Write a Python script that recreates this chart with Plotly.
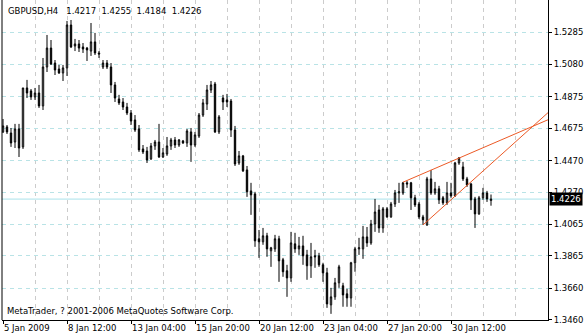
import plotly.graph_objects as go

# ---- data (GBPUSD H4) ----
opens = [
1.4652, 1.4684, 1.4645, 1.4588, 1.4671, 1.4557, 1.4931, 1.4912, 1.4874, 1.4899,
1.4817, 1.5064, 1.5184, 1.5089, 1.5051, 1.5026, 1.5058, 1.5330, 1.5197, 1.5210,
1.5191, 1.5184, 1.5165, 1.5223, 1.5153, 1.5064, 1.5089, 1.5064, 1.4950, 1.4861,
1.4842, 1.4810, 1.4772, 1.4728, 1.4671, 1.4544, 1.4531, 1.4481, 1.4563, 1.4588,
1.4493, 1.4512, 1.4563, 1.4601, 1.4569, 1.4595, 1.4582, 1.4652, 1.4569, 1.4626,
1.4759, 1.4829, 1.4918, 1.4956, 1.4652, 1.4867, 1.4855, 1.4848, 1.4664, 1.4455,
1.4500, 1.4411, 1.4278, 1.4259, 1.3974, 1.3955, 1.3993, 1.3898, 1.3910, 1.3974,
1.3841, 1.3771, 1.3726, 1.3942, 1.3910, 1.3929, 1.3872, 1.3803, 1.3866, 1.3866,
1.3809, 1.3758, 1.3555, 1.3606, 1.3695, 1.3676, 1.3625, 1.3599, 1.3822, 1.3910,
1.3910, 1.3986, 1.3948, 1.4068, 1.4157, 1.4043, 1.4164, 1.4113, 1.4195, 1.4265,
1.4265, 1.4329, 1.4329, 1.4234, 1.4195, 1.4113, 1.4062, 1.4354, 1.4265, 1.4291,
1.4234, 1.4202, 1.4265, 1.4246, 1.4455, 1.4430, 1.4354, 1.4322, 1.4227, 1.4132,
1.4234, 1.4265, 1.4217]
highs = [
1.4734, 1.4696, 1.4677, 1.4703, 1.4703, 1.4931, 1.4982, 1.4924, 1.4931, 1.4950,
1.5121, 1.5267, 1.5235, 1.5108, 1.5077, 1.5077, 1.5356, 1.5362, 1.5242, 1.5235,
1.5216, 1.5191, 1.5343, 1.5280, 1.5165, 1.5108, 1.5108, 1.5089, 1.4969, 1.4887,
1.4867, 1.4836, 1.4791, 1.4759, 1.4696, 1.4569, 1.4557, 1.4582, 1.4601, 1.4703,
1.4550, 1.4620, 1.4614, 1.4620, 1.4607, 1.4601, 1.4671, 1.4677, 1.4652, 1.4772,
1.4861, 1.4950, 1.4975, 1.4969, 1.4759, 1.4887, 1.4893, 1.4861, 1.4690, 1.4531,
1.4506, 1.4436, 1.4329, 1.4272, 1.4030, 1.4043, 1.4012, 1.3923, 1.3999, 1.3993,
1.3853, 1.3809, 1.4018, 1.4012, 1.3986, 1.3993, 1.3904, 1.3948, 1.3904, 1.3885,
1.3822, 1.3790, 1.3663, 1.3726, 1.3809, 1.3695, 1.3657, 1.3828, 1.3923, 1.3980,
1.4056, 1.4049, 1.4094, 1.4227, 1.4189, 1.4176, 1.4176, 1.4208, 1.4284, 1.4329,
1.4335, 1.4341, 1.4335, 1.4253, 1.4208, 1.4126, 1.4367, 1.4411, 1.4335, 1.4310,
1.4246, 1.4335, 1.4329, 1.4462, 1.4493, 1.4462, 1.4367, 1.4329, 1.4240, 1.4246,
1.4297, 1.4278, 1.4255]
lows = [
1.4645, 1.4639, 1.4557, 1.4550, 1.4493, 1.4544, 1.4867, 1.4855, 1.4855, 1.4804,
1.4791, 1.5032, 1.5077, 1.5013, 1.5020, 1.4975, 1.5007, 1.5184, 1.5165, 1.5159,
1.5153, 1.5102, 1.5134, 1.5140, 1.5121, 1.5051, 1.5051, 1.4899, 1.4842, 1.4823,
1.4791, 1.4759, 1.4696, 1.4652, 1.4525, 1.4512, 1.4455, 1.4474, 1.4538, 1.4487,
1.4487, 1.4500, 1.4538, 1.4550, 1.4557, 1.4576, 1.4557, 1.4462, 1.4557, 1.4614,
1.4747, 1.4791, 1.4899, 1.4645, 1.4639, 1.4791, 1.4810, 1.4620, 1.4436, 1.4443,
1.4398, 1.4240, 1.4126, 1.3923, 1.3853, 1.3936, 1.3860, 1.3796, 1.3891, 1.3701,
1.3733, 1.3606, 1.3701, 1.3885, 1.3872, 1.3809, 1.3714, 1.3726, 1.3790, 1.3796,
1.3701, 1.3536, 1.3498, 1.3587, 1.3663, 1.3543, 1.3543, 1.3543, 1.3765, 1.3872,
1.3847, 1.3923, 1.3936, 1.4018, 1.4012, 1.4012, 1.4107, 1.4107, 1.4176, 1.4202,
1.4253, 1.4297, 1.4157, 1.4176, 1.4100, 1.4062, 1.4056, 1.4253, 1.4253, 1.4195,
1.4189, 1.4189, 1.4234, 1.4240, 1.4443, 1.4341, 1.4303, 1.4157, 1.4043, 1.4126,
1.4221, 1.4208, 1.4184]
closes = [
1.4690, 1.4652, 1.4582, 1.4671, 1.4550, 1.4931, 1.4899, 1.4874, 1.4899, 1.4817,
1.5064, 1.5184, 1.5083, 1.5045, 1.5026, 1.5058, 1.5330, 1.5191, 1.5210, 1.5184,
1.5178, 1.5172, 1.5223, 1.5153, 1.5146, 1.5089, 1.5064, 1.4950, 1.4867, 1.4836,
1.4810, 1.4772, 1.4721, 1.4664, 1.4538, 1.4525, 1.4474, 1.4563, 1.4588, 1.4493,
1.4519, 1.4563, 1.4601, 1.4569, 1.4601, 1.4582, 1.4658, 1.4569, 1.4633, 1.4759,
1.4836, 1.4918, 1.4950, 1.4652, 1.4747, 1.4842, 1.4842, 1.4664, 1.4449, 1.4500,
1.4405, 1.4272, 1.4253, 1.3961, 1.3955, 1.3993, 1.3910, 1.3917, 1.3974, 1.3834,
1.3765, 1.3726, 1.3948, 1.3910, 1.3929, 1.3866, 1.3803, 1.3860, 1.3860, 1.3809,
1.3758, 1.3561, 1.3606, 1.3695, 1.3796, 1.3618, 1.3599, 1.3822, 1.3910, 1.3917,
1.3986, 1.3948, 1.4068, 1.4144, 1.4043, 1.4164, 1.4113, 1.4195, 1.4265, 1.4272,
1.4329, 1.4322, 1.4234, 1.4189, 1.4113, 1.4094, 1.4354, 1.4265, 1.4291, 1.4221,
1.4202, 1.4265, 1.4246, 1.4455, 1.4487, 1.4354, 1.4316, 1.4221, 1.4132, 1.4234,
1.4265, 1.4227, 1.4226]
bars = list(range(len(opens)))

x_tick_pos = [0, 16, 32, 48, 64, 80, 96, 112]
x_tick_labels = ["5 Jan 2009", "8 Jan 12:00", "13 Jan 04:00", "15 Jan 20:00",
                 "20 Jan 12:00", "23 Jan 04:00", "27 Jan 20:00", "30 Jan 12:00"]
x_minor_grid = [8, 24, 40, 56, 72, 88, 104, 120, 128, 136]
y_tick_vals = [1.5285, 1.5080, 1.4875, 1.4675, 1.4470, 1.4270, 1.4065, 1.3865, 1.3660, 1.3460]
y_tick_labels = ["1.5285", "1.5080", "1.4875", "1.4675", "1.4470", "1.4270",
                 "1.4065", "1.3865", "1.3660", "1.3460"]
bid_price = 1.4226

# trend line anchors (bar index, price)
upper_x = [100, 114]
upper_y = [1.4333, 1.4486]
lower_x = [105, 124]
lower_y = [1.4062, 1.4495]

X_RANGE = [-0.25, 136.25]
Y_RANGE = [1.3459, 1.54888]
FONT = "DejaVu Sans"
FS = 8.5

fig = go.Figure()
fig.add_trace(go.Candlestick(
    x=bars, open=opens, high=highs, low=lows, close=closes,
    increasing=dict(line=dict(color="black", width=1), fillcolor="white"),
    decreasing=dict(line=dict(color="black", width=1), fillcolor="black"),
    whiskerwidth=0, showlegend=False, hoverinfo="skip",
))

def ray(xs, ys):
    slope = (ys[1] - ys[0]) / (xs[1] - xs[0])
    xe = X_RANGE[1]
    return dict(type="line", xref="x", yref="y", x0=xs[0], y0=ys[0],
                x1=xe, y1=ys[0] + slope * (xe - xs[0]),
                line=dict(color="#ec5a26", width=1), layer="above")

shapes = [
    dict(type="line", xref="paper", yref="y", x0=0, x1=1, y0=bid_price, y1=bid_price,
         line=dict(color="#a9e2ea", width=1), layer="below"),
    ray(upper_x, upper_y),
    ray(lower_x, lower_y),
    dict(type="line", xref="paper", yref="paper", x0=0, x1=0, y0=0, y1=1,
         line=dict(color="black", width=1), layer="above"),
]

annotations = [
    dict(xref="paper", yref="paper", x=0, y=1, xanchor="left", yanchor="top",
         xshift=4, yshift=-4, showarrow=False,
         text="GBPUSD,H4\u00a0\u00a0 1.4217\u00a0 1.4255\u00a0 1.4184\u00a0 1.4226",
         font=dict(family=FONT, size=FS, color="black")),
    dict(xref="paper", yref="paper", x=0, y=0, xanchor="left", yanchor="bottom",
         xshift=3, yshift=2, showarrow=False,
         text="MetaTrader, ? 2001-2006 MetaQuotes Software Corp.",
         font=dict(family=FONT, size=FS, color="black")),
    dict(xref="paper", yref="y", x=1, y=bid_price, xanchor="left", yanchor="middle",
         xshift=1, showarrow=False, text="1.4226", bgcolor="black", borderpad=1,
         font=dict(family=FONT, size=FS, color="white")),
]

fig.update_layout(
    width=584, height=336,
    margin=dict(l=2, r=36, t=0, b=16),
    paper_bgcolor="white", plot_bgcolor="white",
    showlegend=False, boxgap=0.5,
    shapes=shapes, annotations=annotations,
    font=dict(family=FONT, size=FS, color="black"),
    xaxis=dict(
        range=X_RANGE, rangeslider=dict(visible=False), tickmode="array",
        tickvals=x_tick_pos, ticktext=x_tick_labels, ticks="outside", ticklen=3,
        tickcolor="black", ticklabelposition="outside right",
        showgrid=True, gridcolor="#cccccc", griddash="4px,4px", gridwidth=1,
        minor=dict(tickvals=x_minor_grid, showgrid=True, gridcolor="#cccccc",
                   griddash="4px,4px", ticks=""),
        showline=True, linecolor="black", linewidth=1, zeroline=False,
        tickfont=dict(family=FONT, size=FS, color="black"), fixedrange=True,
    ),
    yaxis=dict(
        range=Y_RANGE, side="right", tickmode="array", tickvals=y_tick_vals,
        ticktext=y_tick_labels, ticks="outside", ticklen=3, tickcolor="black",
        showgrid=True, gridcolor="#b9e3e6", griddash="4px,4px", gridwidth=1,
        showline=True, linecolor="black", linewidth=1, zeroline=False,
        tickfont=dict(family=FONT, size=FS, color="black"), fixedrange=True,
    ),
)

fig.write_html("out.html")
